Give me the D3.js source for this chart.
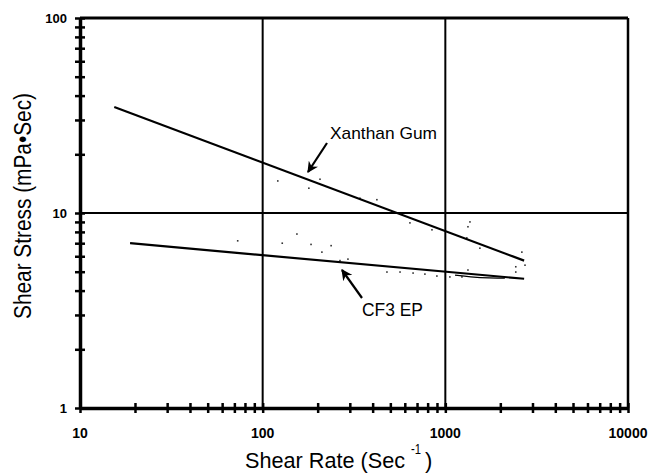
<!DOCTYPE html>
<html lang="en">
<head>
	<meta charset="UTF-8">
	<title>Shear Stress vs Shear Rate</title>
	<style>
		body { margin: 0; background: #fff; }
		text { font-family: "Liberation Sans", Arial, Helvetica, sans-serif; fill: #000; }
	</style>
</head>
<body>
	<svg width="651" height="475"></svg>

	<script src="https://d3js.org/d3.v7.min.js"></script>
	<script>
		// data
		var xDecades = [10, 100, 1000, 10000];
		var yDecades = [1, 10, 100];
		var xanthanFit = [[15.4, 35], [2700, 5.7]];
		var cf3Fit = [[18.8, 7.0], [2700, 4.6]];
		var cf3Tail = [[1130, 4.80], [1364, 4.70], [1754, 4.63], [2118, 4.64]];
		var xanthanDots = [[121, 14.6], [179, 13.4], [206, 14.9], [341, 11.9], [422, 11.7],
			[640, 8.9], [845, 8.2], [1364, 9.0], [1330, 8.5], [1311, 7.45], [1546, 6.6],
			[2624, 6.3], [2730, 5.4], [2430, 5.3]];
		var cf3Dots = [[73, 7.2], [128, 7.0], [154, 7.8], [184, 6.9], [211, 6.3], [237, 6.8],
			[265, 5.7], [293, 5.8], [479, 4.98], [565, 4.98], [666, 4.92], [773, 4.86],
			[899, 4.75], [1059, 4.7], [1233, 4.7], [1330, 5.1], [2430, 4.98]];

		var svg = d3.select("svg");
		var marge = {left: 80, right: 23, top: 18, bottom: 67};
		var width = +svg.attr("width");
		var height = +svg.attr("height");

		var x = d3.scaleLog().domain([10, 10000]).range([marge.left, width - marge.right]);
		var y = d3.scaleLog().domain([1, 100]).range([height - marge.bottom, marge.top]);

		var g = svg.append("g");

		// grid lines at each decade
		g.append("g").selectAll("line")
			.data(xDecades.slice(1, 3))
			.enter().append("line")
			.attr("x1", function(d){ return x(d); })
			.attr("x2", function(d){ return x(d); })
			.attr("y1", y(1)).attr("y2", y(100))
			.attr("stroke", "#000").attr("stroke-width", 2);
		g.append("g").selectAll("line")
			.data(yDecades.slice(1, 2))
			.enter().append("line")
			.attr("x1", x(10)).attr("x2", x(10000))
			.attr("y1", function(d){ return y(d); })
			.attr("y2", function(d){ return y(d); })
			.attr("stroke", "#000").attr("stroke-width", 2);

		// frame
		g.append("line").attr("x1", x(10)).attr("x2", x(10000)).attr("y1", y(100)).attr("y2", y(100))
			.attr("stroke", "#000").attr("stroke-width", 3);
		g.append("line").attr("x1", x(10000)).attr("x2", x(10000)).attr("y1", y(100)).attr("y2", y(1))
			.attr("stroke", "#000").attr("stroke-width", 2.5);

		// axes: ticks cross the axis line
		var xAxis = d3.axisBottom(x).tickValues(x.ticks()).tickSize(0).tickFormat("");
		var yAxis = d3.axisLeft(y).tickValues(y.ticks()).tickSize(0).tickFormat("");

		var gx = g.append("g").attr("transform", "translate(0," + y(1) + ")").call(xAxis);
		gx.select(".domain").attr("stroke", "#000").attr("stroke-width", 3.5);
		gx.selectAll(".tick line").attr("y1", -5).attr("y2", 5).attr("stroke", "#000").attr("stroke-width", 2.5);

		var gy = g.append("g").attr("transform", "translate(" + x(10) + ",0)").call(yAxis);
		gy.select(".domain").attr("stroke", "#000").attr("stroke-width", 3.5);
		gy.selectAll(".tick line").attr("x1", -5).attr("x2", 5).attr("stroke", "#000").attr("stroke-width", 2.5);

		// tick labels
		g.append("g").selectAll("text")
			.data(xDecades)
			.enter().append("text")
			.attr("x", function(d){ return x(d); })
			.attr("y", 438)
			.attr("text-anchor", "middle")
			.attr("font-size", 14).attr("font-weight", "bold")
			.text(function(d){ return d; });
		g.append("g").selectAll("text")
			.data(yDecades)
			.enter().append("text")
			.attr("x", x(10) - 13)
			.attr("y", function(d){ return y(d); })
			.attr("dy", "0.35em")
			.attr("text-anchor", "end")
			.attr("font-size", 13).attr("font-weight", "bold")
			.text(function(d){ return d; });

		// axis titles (the source type is tall and narrow)
		svg.append("text")
			.attr("x", 245).attr("y", 468)
			.attr("font-size", 22)
			.attr("textLength", 160).attr("lengthAdjust", "spacingAndGlyphs")
			.text("Shear Rate (Sec");
		svg.append("text")
			.attr("x", 411).attr("y", 454)
			.attr("font-size", 14)
			.attr("textLength", 10).attr("lengthAdjust", "spacingAndGlyphs")
			.text("-1");
		svg.append("text")
			.attr("x", 425).attr("y", 468)
			.attr("font-size", 22)
			.text(")");

		svg.append("text")
			.attr("transform", "translate(31,206) rotate(-90)")
			.attr("text-anchor", "middle")
			.attr("font-size", 23)
			.attr("textLength", 226).attr("lengthAdjust", "spacingAndGlyphs")
			.text("Shear Stress (mPa\u2022Sec)");

		// data dots
		var allDots = xanthanDots.concat(cf3Dots);
		g.append("g").selectAll("rect")
			.data(allDots)
			.enter().append("rect")
			.attr("x", function(d){ return x(d[0]) - 0.8; })
			.attr("y", function(d){ return y(d[1]) - 0.8; })
			.attr("width", 1.6).attr("height", 1.6)
			.attr("fill", "#333");

		// fitted lines
		var line = d3.line()
			.x(function(d){ return x(d[0]); })
			.y(function(d){ return y(d[1]); });
		g.append("path").datum(xanthanFit).attr("d", line)
			.attr("fill", "none").attr("stroke", "#000").attr("stroke-width", 2.2);
		g.append("path").datum(cf3Fit).attr("d", line)
			.attr("fill", "none").attr("stroke", "#000").attr("stroke-width", 2.2);
		g.append("path").datum(cf3Tail).attr("d", line.curve(d3.curveBasis))
			.attr("fill", "none").attr("stroke", "#000").attr("stroke-width", 1.3);

		// arrow labels
		svg.append("defs").append("marker")
			.attr("id", "head")
			.attr("viewBox", "0 0 10 10")
			.attr("refX", 9).attr("refY", 5)
			.attr("markerWidth", 5).attr("markerHeight", 5)
			.attr("orient", "auto")
			.append("path").attr("d", "M0,0L10,5L0,10L3,5Z").attr("fill", "#000");

		svg.append("text").attr("x", 330).attr("y", 139).attr("font-size", 17)
			.attr("textLength", 107).attr("lengthAdjust", "spacingAndGlyphs")
			.text("Xanthan Gum");
		svg.append("line").attr("x1", 327).attr("y1", 143).attr("x2", 308).attr("y2", 172)
			.attr("stroke", "#000").attr("stroke-width", 2.2).attr("marker-end", "url(#head)");

		svg.append("text").attr("x", 362).attr("y", 316).attr("font-size", 19)
			.attr("textLength", 61).attr("lengthAdjust", "spacingAndGlyphs")
			.text("CF3 EP");
		svg.append("line").attr("x1", 362).attr("y1", 298).attr("x2", 342).attr("y2", 270)
			.attr("stroke", "#000").attr("stroke-width", 2.2).attr("marker-end", "url(#head)");
	</script>
</body>
</html>
